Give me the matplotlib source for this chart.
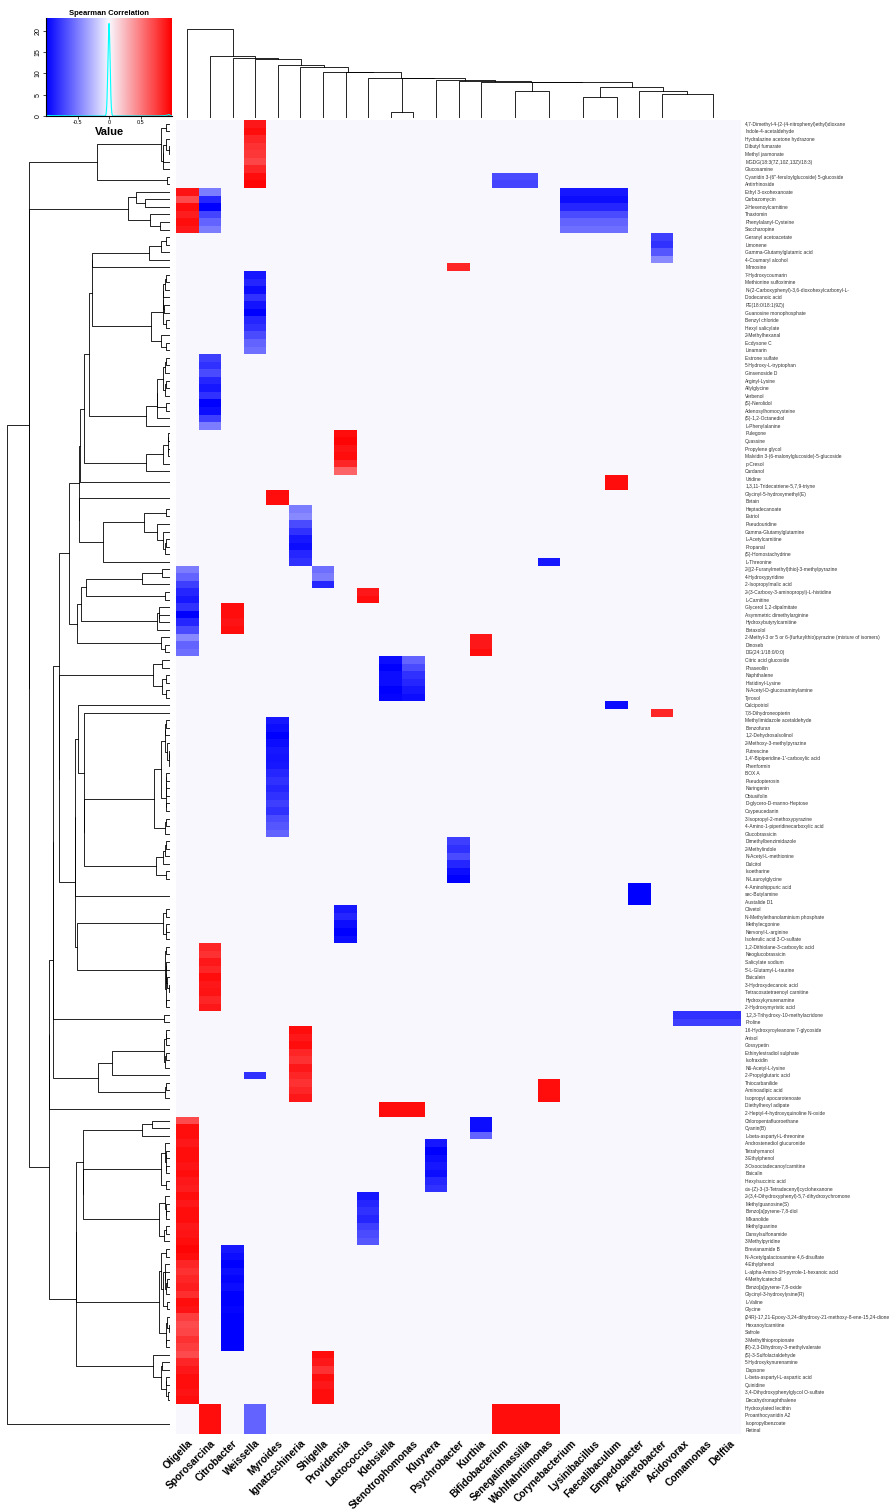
import numpy as np
import matplotlib
matplotlib.use("Agg")
import matplotlib.pyplot as plt
from matplotlib.colors import LinearSegmentedColormap

plt.rcParams["font.family"] = ["Liberation Sans", "DejaVu Sans"]

# ---- data -------------------------------------------------------------
genera = ["Oligella", "Sporosarcina", "Citrobacter", "Weissella", "Myroides",
          "Ignatzschineria", "Shigella", "Providencia", "Lactococcus", "Klebsiella",
          "Stenotrophomonas", "Kluyvera", "Psychrobacter", "Kurthia", "Bifidobacterium",
          "Senegalimassilia", "Wohlfahrtiimonas", "Corynebacterium", "Lysinibacillus",
          "Faecalibaculum", "Empedobacter", "Acinetobacter", "Acidovorax", "Comamonas",
          "Delftia"]

metabolites = [
    "4,7-Dimethyl-4-(2-(4-nitrophenyl)ethyl)dioxane", "Indole-4-acetaldehyde",
    "Hydralazine acetone hydrazone", "Dibutyl fumarate", "Methyl jasmonate",
    "MGDG(18:3(7Z,10Z,13Z)/18:3)", "Glucosamine",
    "Cyanidin 3-(6''-feruloylglucoside) 5-glucoside", "Antirrhinoside",
    "Ethyl 3-oxohexanoate", "Carbazomycin", "2-Hexenoylcarnitine", "Thaxtomin",
    "Phenylalanyl-Cysteine", "Saccharopine",
    "Geranyl acetoacetate", "Limonene", "Gamma-Glutamylglutamic acid",
    "4-Coumaryl alcohol", "Mimosine", "7-Hydroxycoumarin", "Methionine sulfoximine",
    "N-(2-Carboxyphenyl)-3,6-dioxohexylcarbonyl-L-", "Dodecanoic acid",
    "PE(18:0/18:1(9Z))", "Guanosine monophosphate", "Benzyl chloride",
    "Hexyl salicylate", "2-Methylhexanal", "Ecdysone C", "Linamarin",
    "Estrone sulfate", "5-Hydroxy-L-tryptophan", "Ginsenoside D", "Arginyl-Lysine",
    "Allylglycine", "Verbenol", "(S)-Nerolidol", "Adenosylhomocysteine",
    "(S)-1,2-Octanediol", "L-Phenylalanine", "Pulegone", "Quassine",
    "Propylene glycol", "Malvidin 3-(6-malonylglucoside)-5-glucoside", "p-Cresol",
    "Cardanol",
    "Uridine", "1,3,11-Tridecatriene-5,7,9-triyne", "Glycinyl-5-hydroxymethyl(E)",
    "Betain", "Heptadecanoate", "Estriol", "Pseudouridine",
    "Gamma-Glutamylglutamine", "L-Acetylcarnitine", "Propanal",
    "(S)-Homostachydrine", "L-Threonine",
    "2-[(2-Furanylmethyl)thio]-3-methylpyrazine", "4-Hydroxypyridine",
    "2-Isopropylmalic acid", "2-(3-Carboxy-3-aminopropyl)-L-histidine",
    "L-Carnitine", "Glycerol 1,2-dipalmitate", "Asymmetric dimethylarginine",
    "Hydroxybutyrylcarnitine", "Betaxolol",
    "2-Methyl-3 or 5 or 6-(furfurylthio)pyrazine (mixture of isomers)", "Dinoseb",
    "DG(24:1/18:0/0:0)", "Citric acid glucoside", "Phaseollin", "Naphthalene",
    "Histidinyl-Lysine", "N-Acetyl-D-glucosaminylamine", "Tyrosol", "Calcipotriol",
    "7,8-Dihydroneopterin",
    "Methylimidazole acetaldehyde", "Benzofuran", "1,2-Dehydrosalsolinol",
    "2-Methoxy-3-methylpyrazine", "Putrescine",
    "1,4'-Bipiperidine-1'-carboxylic acid", "Phenformin", "BOX A", "Pseudopterosin",
    "Naringenin", "Obtusifolin", "D-glycero-D-manno-Heptose", "Oxypeucedanin",
    "3-Isopropyl-2-methoxypyrazine", "4-Amino-1-piperidinecarboxylic acid",
    "Glucobrassicin", "Dimethylbenzimidazole", "2-Methylindole",
    "N-Acetyl-L-methionine", "Dulcitol", "Isoetharine", "N-Lauroylglycine",
    "4-Aminohippuric acid", "sec-Butylamine", "Austalide D1", "Olivetol",
    "N-Methylethanolaminium phosphate", "Methylecgonine", "Nervonyl-L-arginine",
    "Isoferulic acid 3-O-sulfate", "1,2-Dithiolane-3-carboxylic acid",
    "Neoglucobrassicin", "Salicylate sodium", "5'-L-Glutamyl-L-taurine", "Baicalein",
    "3-Hydroxydecanoic acid", "Tetracosatetraenoyl carnitine", "Hydroxykynurenamine",
    "2-Hydroxymyristic acid", "1,2,3-Trihydroxy-10-methylacridone", "Proline",
    "16-Hydroxyroyleanone 7-glycoside", "Anisol", "Gossypetin",
    "Ethinylestradiol sulphate", "Isofraxidin", "N6-Acetyl-L-lysine",
    "2-Propylglutaric acid", "Thiocarbanilide", "Aminoadipic acid",
    "Isopropyl apocarotenoate", "Diethylhexyl adipate",
    "2-Heptyl-4-hydroxyquinoline N-oxide", "Chloropentafluoroethane", "Cyanin(B)",
    "L-beta-aspartyl-L-threonine", "Androstenediol glucuronide", "Tetrahymanol",
    "3-Ethylphenol", "3-Oxooctadecanoylcarnitine", "Baicalin", "Hexylsuccinic acid",
    "cis-(Z)-3-(3-Tetradecenyl)cyclohexanone",
    "2-(3,4-Dihydroxyphenyl)-5,7-dihydroxychromone", "Methylguanosine(S)",
    "Benzo[a]pyrene-7,8-diol", "Mikanolide", "Methylguanine", "Dansylsulfonamide",
    "3-Methylpyridine", "Brevianamide B", "N-Acetylgalactosamine 4,6-disulfate",
    "4-Ethylphenol", "L-alpha-Amino-1H-pyrrole-1-hexanoic acid", "4-Methylcatechol",
    "Benzo[a]pyrene-7,8-oxide", "Glycinyl-3-hydroxylysine(R)", "L-Valine", "Glycine",
    "(24R)-17,21-Epoxy-3,24-dihydroxy-21-methoxy-8-ene-15,24-dione",
    "Hexanoylcarnitine", "Safrole", "3-Methylthiopropionate",
    "(R)-2,3-Dihydroxy-3-methylvalerate", "(S)-3-Sulfolactaldehyde",
    "5-Hydroxykynurenamine", "Dapsone", "L-beta-aspartyl-L-aspartic acid",
    "Quinidine", "3,4-Dihydroxyphenylglycol O-sulfate", "Decahydronaphthalene",
    "Hydroxylated lecithin", "Proanthocyanidin A2", "Isopropylbenzoate", "Retinal",
]

# significant correlations: (genus, first metabolite row, values)
blocks = [
    ("Weissella", 0, [0.9, 0.95, 0.85, 0.8, 0.78, 0.72, 0.85, 0.95, 0.98]),
    ("Bifidobacterium", 7, [-0.7, -0.72]),
    ("Senegalimassilia", 7, [-0.7, -0.72]),
    ("Oligella", 9, [0.92, 0.7, 0.95, 0.88, 0.95, 0.9]),
    ("Sporosarcina", 9, [-0.5, -0.85, -1.0, -0.72, -0.6, -0.5]),
    ("Corynebacterium", 9, [-0.9, -0.95, -0.85, -0.7, -0.6, -0.55]),
    ("Lysinibacillus", 9, [-0.9, -0.95, -0.85, -0.7, -0.6, -0.55]),
    ("Faecalibaculum", 9, [-0.9, -0.95, -0.85, -0.7, -0.6, -0.55]),
    ("Acinetobacter", 15, [-0.75, -0.8, -0.65, -0.45]),
    ("Psychrobacter", 19, [0.85]),
    ("Weissella", 20, [-0.9, -0.85, -0.95, -0.8, -0.92, -1.0, -0.85, -0.8, -0.7, -0.6, -0.55]),
    ("Sporosarcina", 31, [-0.75, -0.8, -0.7, -0.85, -0.9, -0.8, -1.0, -0.95, -0.75, -0.5]),
    ("Providencia", 41, [0.95, 0.98, 0.92, 0.95, 0.85, 0.6]),
    ("Faecalibaculum", 47, [0.95, 0.95]),
    ("Myroides", 49, [0.95, 0.95]),
    ("Ignatzschineria", 51, [-0.5, -0.45, -0.7, -0.8, -0.9, -0.95, -0.85, -0.8]),
    ("Wohlfahrtiimonas", 58, [-0.9]),
    ("Shigella", 59, [-0.55, -0.5, -0.85]),
    ("Oligella", 59, [-0.5, -0.6, -0.75, -0.85, -0.9, -0.8, -1.0, -0.85, -0.7, -0.45, -0.6, -0.55]),
    ("Lactococcus", 62, [0.9, 0.95]),
    ("Citrobacter", 64, [0.95, 0.95, 0.92, 0.95]),
    ("Kurthia", 68, [0.9, 0.9, 0.95]),
    ("Klebsiella", 71, [-0.95, -1.0, -0.95, -0.95, -1.0, -0.98]),
    ("Stenotrophomonas", 71, [-0.6, -0.7, -0.8, -0.85, -0.9, -0.95]),
    ("Faecalibaculum", 77, [-0.95]),
    ("Acinetobacter", 78, [0.85]),
    ("Myroides", 79, [-0.9, -0.95, -1.0, -0.95, -0.9, -0.92, -0.9, -0.85,
                      -0.8, -0.85, -0.8, -0.75, -0.8, -0.7, -0.65, -0.6]),
    ("Psychrobacter", 95, [-0.75, -0.8, -0.7, -0.85, -0.95, -1.0]),
    ("Empedobacter", 101, [-1.0, -1.0, -1.0]),
    ("Providencia", 104, [-0.9, -0.85, -0.95, -1.0, -0.95]),
    ("Sporosarcina", 109, [0.85, 0.8, 0.9, 0.85, 0.95, 0.9, 0.92, 0.85, 0.9]),
    ("Acidovorax", 118, [-0.8, -0.75]),
    ("Comamonas", 118, [-0.8, -0.75]),
    ("Delftia", 118, [-0.8, -0.75]),
    ("Ignatzschineria", 120, [0.95, 0.9, 0.95, 0.85, 0.8, 0.9, 0.85, 0.8, 0.85, 0.9]),
    ("Weissella", 126, [-0.8]),
    ("Wohlfahrtiimonas", 127, [0.95, 0.95, 0.95]),
    ("Klebsiella", 130, [0.95, 0.95]),
    ("Stenotrophomonas", 130, [0.95, 0.95]),
    ("Kurthia", 132, [-0.95, -0.95, -0.6]),
    ("Oligella", 132, [0.7, 0.95, 0.95, 0.9, 0.95, 0.95, 0.92, 0.95, 0.9, 0.88,
                       0.95, 0.9, 0.95, 0.95, 0.9, 0.92, 0.95, 0.98, 0.95, 0.85,
                       0.8, 0.85, 0.88, 0.82, 0.95, 0.92, 0.75, 0.7, 0.72, 0.8,
                       0.75, 0.7, 0.85, 0.9, 0.95, 0.95, 0.92, 0.95]),
    ("Kluyvera", 135, [-0.9, -1.0, -0.95, -0.9, -0.95, -0.85, -0.8]),
    ("Lactococcus", 142, [-0.9, -0.85, -0.8, -0.85, -0.75, -0.7, -0.65]),
    ("Citrobacter", 149, [-0.9, -0.95, -1.0, -0.95, -0.98, -0.95, -1.0, -1.0,
                          -0.98, -1.0, -1.0, -1.0, -1.0, -1.0]),
    ("Shigella", 163, [0.95, 0.9, 0.8, 0.95, 0.9, 0.95, 0.95]),
    ("Sporosarcina", 170, [0.95, 0.95, 0.95, 0.95]),
    ("Weissella", 170, [-0.6, -0.6, -0.6, -0.6]),
    ("Bifidobacterium", 170, [0.95, 0.95, 0.95, 0.95]),
    ("Senegalimassilia", 170, [0.95, 0.95, 0.95, 0.95]),
    ("Wohlfahrtiimonas", 170, [0.95, 0.95, 0.95, 0.95]),
]

nrow, ncol = len(metabolites), len(genera)
M = np.zeros((nrow, ncol))
for g, r0, vals in blocks:
    M[r0:r0 + len(vals), genera.index(g)] = vals


# order-preserving average-linkage clustering (keeps the displayed order)
def ordered_linkage(X):
    D = np.sqrt(((X[:, None, :] - X[None, :, :]) ** 2).sum(-1))
    n = len(X)
    clusters = [[i] for i in range(n)]
    nodes = list(range(n))
    pos = {i: i + 0.5 for i in range(n)}
    hgt = {i: 0.0 for i in range(n)}
    merges = []
    nid = n
    while len(clusters) > 1:
        d = [D[np.ix_(clusters[k], clusters[k + 1])].mean() for k in range(len(clusters) - 1)]
        k = int(np.argmin(d))
        a, b = nodes[k], nodes[k + 1]
        h = max(d[k], hgt[a], hgt[b])
        merges.append((a, b, h))
        pos[nid] = (pos[a] + pos[b]) / 2
        hgt[nid] = h
        clusters[k] = clusters[k] + clusters[k + 1]
        del clusters[k + 1]
        nodes[k] = nid
        del nodes[k + 1]
        nid += 1
    return merges, pos, hgt


def draw_dendro(ax, X, vertical):
    merges, pos, hgt = ordered_linkage(X)
    for a, b, h in merges:
        p = [pos[a], pos[a], pos[b], pos[b]]
        q = [hgt[a], h, h, hgt[b]]
        if vertical:
            ax.plot(q, p, color="black", lw=0.6)
        else:
            ax.plot(p, q, color="black", lw=0.6)
    return max(hgt.values())


W, H = 896, 1512


def px(l, t, r, b):
    return [l / W, 1 - b / H, (r - l) / W, (b - t) / H]


fig = plt.figure(figsize=(W / 100, H / 100), dpi=100)
cmap = LinearSegmentedColormap.from_list("bwr2", ["#0000FF", "#F8F8FF", "#FF0000"], N=256)

# heatmap
ax = fig.add_axes(px(176, 120, 741, 1434))
ax.pcolormesh(M, cmap=cmap, vmin=-1, vmax=1)
ax.set_xlim(0, ncol)
ax.set_ylim(nrow, 0)
ax.yaxis.tick_right()
ax.set_yticks(np.arange(nrow) + 0.5)
ax.set_yticklabels(metabolites, fontsize=3.5, color="#333333")
ax.set_xticks(np.arange(ncol) + 0.5)
ax.set_xticklabels(genera, rotation=45, ha="right", va="top", rotation_mode="anchor",
                   fontsize=7.3, fontweight="bold")
ax.tick_params(length=0, pad=3)
for s in ax.spines.values():
    s.set_visible(False)

# row dendrogram
axr = fig.add_axes(px(5, 120, 170, 1434))
hr = draw_dendro(axr, M, vertical=True)
axr.set_ylim(nrow, 0)
axr.set_xlim(hr * 1.01, 0)
axr.axis("off")

# column dendrogram
axc = fig.add_axes(px(176, 28, 741, 118))
hc = draw_dendro(axc, M.T, vertical=False)
axc.set_xlim(0, ncol)
axc.set_ylim(0, hc * 1.01)
axc.axis("off")

# colour key with density
axk = fig.add_axes(px(46, 18, 172, 116))
grid = np.linspace(-1, 1, 801)
vals = M.ravel()
bw = 0.0172
dens = np.exp(-0.5 * ((grid[:, None] - vals[None, :]) / bw) ** 2).sum(1) / (len(vals) * bw * np.sqrt(2 * np.pi))
ytop = dens.max() * 1.06
axk.imshow(np.linspace(-1, 1, 256)[None, :], cmap=cmap, vmin=-1, vmax=1,
           extent=[-1, 1, 0, ytop], aspect="auto")
axk.plot(grid, dens, color="cyan", lw=0.8)
axk.set_xlim(-1, 1)
axk.set_ylim(0, ytop)
axk.set_xticks([-0.5, 0, 0.5])
axk.set_xticklabels(["-0.5", "0", "0.5"], fontsize=4)
axk.set_yticks([0, 5, 10, 15, 20])
axk.set_yticklabels(["0", "5", "10", "15", "20"], fontsize=5, rotation=90, va="center")
axk.tick_params(length=2, width=0.5, pad=1)
axk.set_title("Spearman Correlation", fontsize=5.5, fontweight="bold", pad=2)
axk.set_xlabel("Value", fontsize=8, fontweight="bold", labelpad=1)
for s in ["top", "right"]:
    axk.spines[s].set_visible(False)

fig.savefig("out.png", dpi=100)
